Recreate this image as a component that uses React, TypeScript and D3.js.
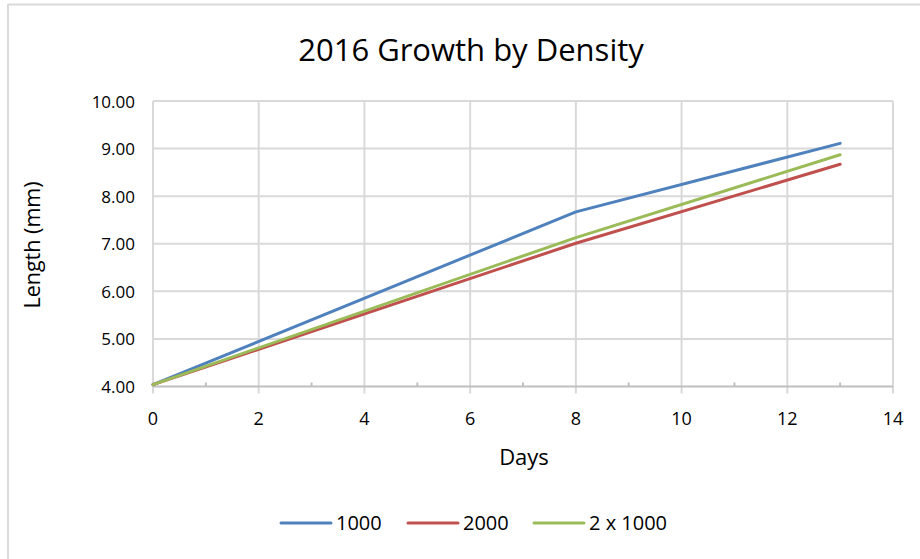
import React from "react";
import * as d3 from "d3";

const days = [0, 8, 13];
const s1000 = [4.04, 7.67, 9.11];
const s2000 = [4.04, 7.01, 8.67];
const s2x1000 = [4.04, 7.13, 8.87];
const seriesNames = ["1000", "2000", "2 x 1000"];
const seriesColors = ["#4f81bd", "#c0504d", "#9bbb59"];
const xTicks = [0, 2, 4, 6, 8, 10, 12, 14];
const xMinorTicks = [1, 3, 5, 7, 9, 11, 13];
const yTicks = [4, 5, 6, 7, 8, 9, 10];

const W = 920;
const H = 559;
const FONT = "'Open Sans', 'Liberation Sans', sans-serif";

export default function App() {
  const x = d3.scaleLinear().domain([0, 14]).range([153, 893]);
  const y = d3.scaleLinear().domain([4, 10]).range([386.5, 101]);
  const allSeries = [s1000, s2000, s2x1000];
  const line = d3
    .line<[number, number]>()
    .x((d) => x(d[0]))
    .y((d) => y(d[1]));

  return (
    <svg
      width={W}
      height={H}
      style={{ position: "absolute", left: 0, top: 0, background: "#fff" }}
      fontFamily={FONT}
    >
      <rect x={0} y={0} width={W} height={H} fill="#fff" />
      <line x1={8} x2={W} y1={4.5} y2={4.5} stroke="#d9d9d9" strokeWidth={2} />
      <line x1={8} x2={8} y1={4} y2={H} stroke="#d9d9d9" strokeWidth={2} />
      <text x={471} y={61} textAnchor="middle" fontSize={31} fill="#000">
        2016 Growth by Density
      </text>
      {yTicks.map((t) => (
        <g key={"y" + t}>
          {t !== 4 && (
            <line x1={x(0)} x2={x(14)} y1={y(t)} y2={y(t)} stroke="#d9d9d9" strokeWidth={2} />
          )}
          <text x={135} y={y(t) + 6.5} textAnchor="end" fontSize={17} fill="#000">
            {t.toFixed(2)}
          </text>
        </g>
      ))}
      {xTicks.map((t) => (
        <g key={"x" + t}>
          <line x1={x(t)} x2={x(t)} y1={y(10)} y2={y(4) + 7} stroke="#d9d9d9" strokeWidth={2} />
          <text x={x(t)} y={425} textAnchor="middle" fontSize={18} fill="#000">
            {t}
          </text>
        </g>
      ))}
      {xMinorTicks.map((t) => (
        <line key={"m" + t} x1={x(t)} x2={x(t)} y1={y(4) - 4} y2={y(4)} stroke="#bfbfbf" strokeWidth={2} />
      ))}
      <line x1={x(0)} x2={x(14)} y1={y(4)} y2={y(4)} stroke="#bfbfbf" strokeWidth={2} />
      <text x={524} y={465} textAnchor="middle" fontSize={22} fill="#000">
        Days
      </text>
      <text
        transform={`translate(40,245) rotate(-90)`}
        textAnchor="middle"
        fontSize={21.5}
        fill="#000"
      >
        Length (mm)
      </text>
      {allSeries.map((s, i) => (
        <path
          key={"s" + i}
          d={line(days.map((d, j) => [d, s[j]] as [number, number])) || ""}
          fill="none"
          stroke={seriesColors[i]}
          strokeWidth={3}
          strokeLinecap="round"
          strokeLinejoin="round"
        />
      ))}
      {seriesNames.map((n, i) => {
        const lx = [281, 408, 534][i];
        return (
          <g key={"l" + n}>
            <line x1={lx} x2={lx + 50} y1={523} y2={523} stroke={seriesColors[i]} strokeWidth={3} strokeLinecap="round" />
            <text x={lx + 55} y={530} fontSize={20} fill="#000">
              {n}
            </text>
          </g>
        );
      })}
    </svg>
  );
}
